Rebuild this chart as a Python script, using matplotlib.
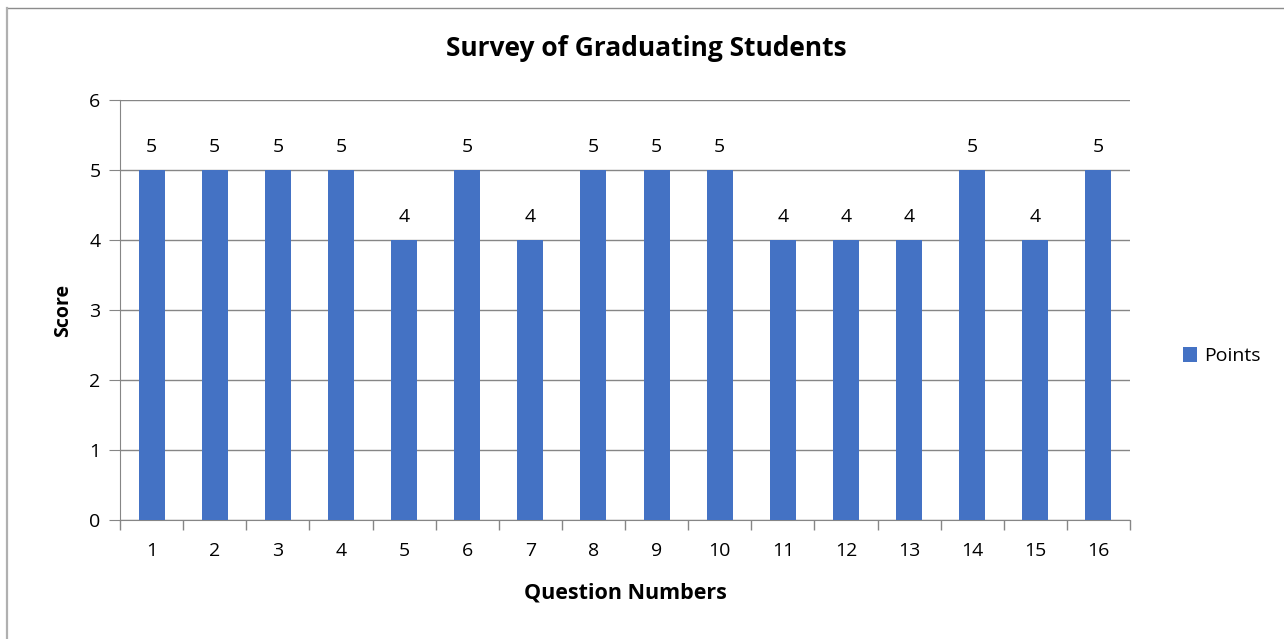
import matplotlib.pyplot as plt
from matplotlib.lines import Line2D
import numpy as np

# data
questions = [str(i) for i in range(1, 17)]
points = [5, 5, 5, 5, 4, 5, 4, 5, 5, 5, 4, 4, 4, 5, 4, 5]

plt.rcParams['font.family'] = ['Open Sans', 'DejaVu Sans']

fig = plt.figure(figsize=(12.84, 6.39), dpi=100)
ax = fig.add_axes([120/1284, 1-520/639, 1010/1284, 420/639])

x = np.arange(len(questions))
bars = ax.bar(x, points, width=0.41, color='#4472C4', label='Points', zorder=3)
ax.bar_label(bars, padding=10, fontsize=14)

ax.set_xlim(-0.5, len(questions) - 0.5)
ax.set_ylim(0, 6)
ax.set_yticks(range(7))
ax.set_xticks(x)
ax.set_xticklabels(questions)
ax.set_xticks(np.arange(-0.5, len(questions)), minor=True)
ax.tick_params(axis='x', which='major', length=0, pad=16, labelsize=14)
ax.tick_params(axis='x', which='minor', length=7, color='#868686', width=1)
ax.tick_params(axis='y', length=8, color='#868686', labelsize=14, pad=6)
ax.grid(axis='y', color='#868686', linewidth=1, zorder=0)

for s in ['top', 'right']:
    ax.spines[s].set_visible(False)
for s in ['left', 'bottom']:
    ax.spines[s].set_color('#868686')

# title is centred on the whole chart, not the plot area
fig.text(0.503, 1-48/639, 'Survey of Graduating Students', fontsize=19,
         fontweight='bold', ha='center', va='center')
ax.set_xlabel('Question Numbers', fontsize=15.5, fontweight='bold', labelpad=16)
ax.set_ylabel('Score', fontsize=14, fontweight='bold', labelpad=12)

ax.legend(loc='center left', bbox_to_anchor=(1.035, 0.39), frameon=False,
          fontsize=14, handlelength=0.75, handleheight=0.75, handletextpad=0.35)

# chart border: only top and left edges show
fig.lines.append(Line2D([7/1284, 1], [1-7.5/639, 1-7.5/639], color='#8C8C8C',
                        linewidth=1, transform=fig.transFigure))
fig.lines.append(Line2D([7/1284, 7/1284], [0, 1-7.5/639], color='#B0B0B0',
                        linewidth=1.6, transform=fig.transFigure))

fig.savefig('out.png', dpi=100)
